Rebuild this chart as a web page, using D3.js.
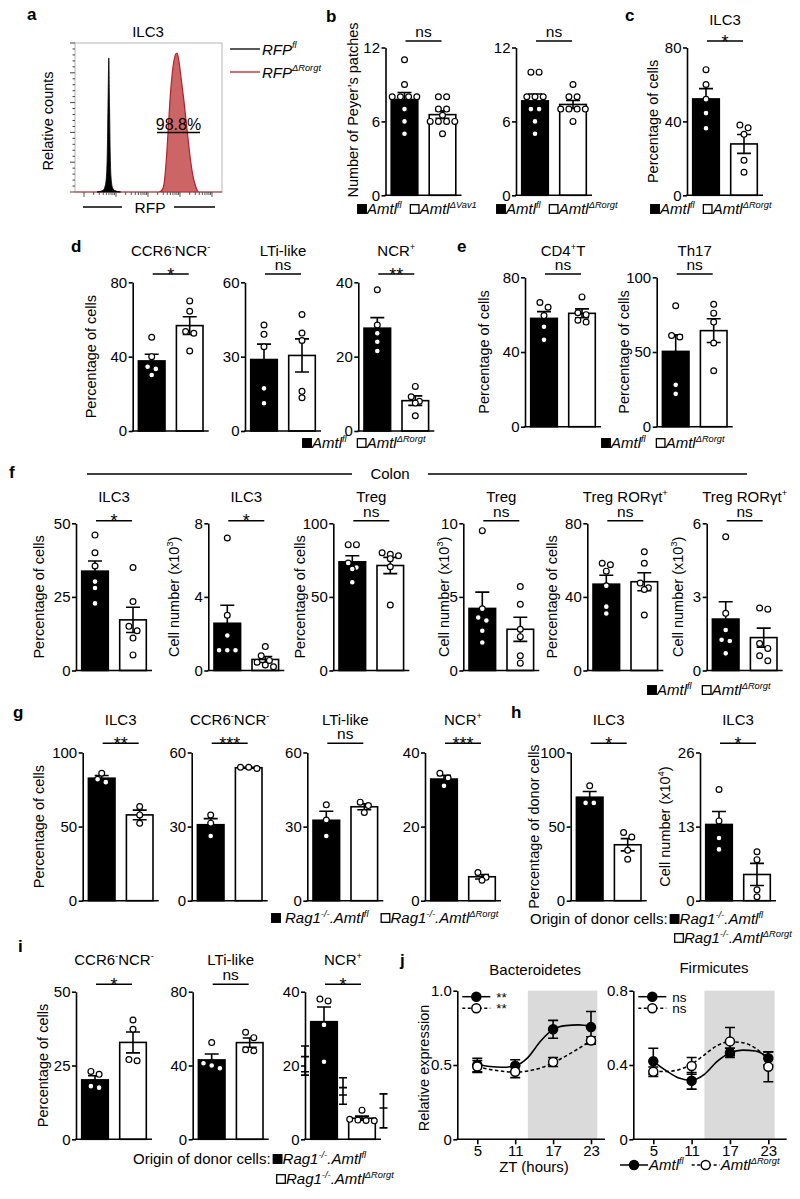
<!DOCTYPE html>
<html><head><meta charset="utf-8">
<script src="https://cdn.jsdelivr.net/npm/d3@7"></script>
<style>
body{margin:0;background:#fff}
svg{font-family:"Liberation Sans",Arial,Helvetica,sans-serif}
</style>
</head><body>
<svg id="chart" width="800" height="1199"></svg>
<script>
// ---------------- DATA ----------------
// panel a: flow histogram (channel, relative count)
const aBlackChannel = [15, 19, 20.5, 21.5, 22, 22.5, 23, 23.5, 24, 24.5, 25.5, 27, 31];
const aBlackCount   = [0, 1, 4, 12, 28, 62, 90, 58, 24, 10, 3, 1, 0];
const aRedChannel = [0, 18, 20.5, 23, 25.5, 28, 57, 59, 60.5, 62, 63.3, 64.5, 66, 67.5, 69, 69.5, 70.5, 72, 74, 76, 78, 80, 82, 84, 100];
const aRedCount   = [0, 0, 1.5, 2.5, 1.5, 0, 0, 1, 5, 20, 40, 60, 78, 89, 93, 93, 89, 78, 62, 44, 26, 12, 4, 0, 0];
const aGateLabel = "98.8%";

// bar panels: individual mice [control, knockout]
const bVav1Ctrl = [11, 9, 8, 8, 8, 8, 7, 6, 5];
const bVav1Ko   = [8, 8, 7, 7, 6.5, 6, 6, 6, 6, 5];
const bRorgtCtrl = [10, 10, 8, 8, 8, 7, 7, 6, 5];
const bRorgtKo   = [9, 8, 8, 7, 7, 7, 7, 6];
const cCtrl = [68, 60, 52, 44.5, 36.3];
const cKo   = [38, 36.5, 33, 19, 12.5];
const dCcr6Ctrl = [50.4, 40, 34.6, 33.4, 30.1];
const dCcr6Ko   = [70, 64.4, 53.5, 52.6, 43];
const dLtiCtrl = [42.8, 39, 34, 17.2, 11.2];
const dLtiKo   = [47, 39.5, 36.5, 16, 13.4];
const dNcrCtrl = [38, 28.5, 26.3, 24, 21.5];
const dNcrKo   = [12, 9.2, 8, 7.5, 4.1];
const eCd4Ctrl = [66.5, 64, 59.5, 53.5, 46.5];
const eCd4Ko   = [69.5, 61, 60, 57, 56];
const eTh17Ctrl = [81, 61, 60, 28, 22];
const eTh17Ko   = [82, 76, 70, 56, 37.5];
const fIlc3PctCtrl = [46, 40, 35.5, 30.2, 28, 22.8];
const fIlc3PctKo   = [35, 23.4, 15, 13.5, 11, 5.3];
const fIlc3NumCtrl = [7.2, 3.0, 1.9, 1.1, 1.1, 1.1];
const fIlc3NumKo   = [1.3, 0.8, 0.55, 0.45, 0.3, 0.2];
const fTregPctCtrl = [85.5, 85.5, 73, 70, 69, 60];
const fTregPctKo   = [80, 79, 78, 76, 70.5, 44.5];
const fTregNumCtrl = [9.5, 4.2, 3.6, 3.4, 2.7, 1.9];
const fTregNumKo   = [5.7, 4.5, 2.8, 2.3, 1.0, 0.5];
const fRorPctCtrl = [58.3, 57.5, 54, 46, 34.7, 31];
const fRorPctKo   = [64.5, 58.3, 47.5, 45, 44, 30.2];
const fRorNumCtrl = [5.45, 2.33, 1.65, 1.25, 1.2, 0.7];
const fRorNumKo   = [2.55, 2.5, 1.1, 0.9, 0.6, 0.4];
const gIlc3Ctrl = [86, 82, 80];
const gIlc3Ko   = [63.5, 57.9, 52.3];
const gCcr6Ctrl = [34.7, 31.4, 26.2];
const gCcr6Ko   = [54, 53.5, 54];
const gLtiCtrl = [38.8, 32.7, 26.2];
const gLtiKo   = [39.9, 38.5, 35.7];
const gNcrCtrl = [34.4, 33.1, 31];
const gNcrKo   = [7.6, 6.3, 5.5];
const hPctCtrl = [77.5, 66, 66];
const hPctKo   = [46, 43, 34, 28];
const hNumCtrl = [19.5, 14, 11, 9];
const hNumKo   = [8.6, 7.2, 1.9, 0.7];
const iCcr6Ctrl = [23, 22, 18, 17.5];
const iCcr6Ko   = [40.4, 37.3, 27, 26.6];
const iLtiCtrl = [52.4, 41.2, 40, 38.5];
const iLtiKo   = [58, 55.1, 48.5, 48];
const iNcrCtrl = [38, 37.5, 31, 21];
const iNcrKo   = [7.9, 5.4, 5.2, 5.1, 5.0];
// stray error bars printed in panel i (NCR+): mean, extra tick, low, high
const iStrayMean  = [22.4, 14, 8.5];
const iStrayExtra = [18.3, 12, 8.5];
const iStrayLow   = [17.4, 9.5, 3.1];
const iStrayHigh  = [25.3, 16.7, 12.3];

// panel j: ZT time course
const jHours = [5, 11, 17, 23];
const bacCtrlMean = [0.50, 0.495, 0.74, 0.755];
const bacCtrlSem  = [0.045, 0.04, 0.06, 0.105];
const bacKoMean = [0.49, 0.455, 0.52, 0.665];
const bacKoSem  = [0.04, 0.04, 0.03, 0.025];
const firCtrlMean = [0.42, 0.315, 0.466, 0.436];
const firCtrlSem  = [0.07, 0.045, 0.025, 0.035];
const firKoMean = [0.364, 0.395, 0.527, 0.39];
const firKoSem  = [0.025, 0.045, 0.075, 0.08];
const fitHours = [5, 7, 9, 11, 13, 15, 17, 19, 21, 23];
const bacCtrlFit = [0.505, 0.49, 0.485, 0.495, 0.55, 0.66, 0.74, 0.765, 0.77, 0.76];
const bacKoFit   = [0.49, 0.47, 0.458, 0.452, 0.46, 0.48, 0.515, 0.56, 0.61, 0.665];
const firCtrlFit = [0.42, 0.37, 0.33, 0.318, 0.35, 0.42, 0.465, 0.48, 0.475, 0.44];
const firKoFit   = [0.365, 0.365, 0.375, 0.405, 0.455, 0.505, 0.525, 0.52, 0.49, 0.43];
const darkPhase = [13, 24];

// ---------------- HELPERS ----------------
const svg = d3.select("#chart");
const FS_TICK = 15, FS_TITLE = 15, FS_LAB = 14.5, FS_LEG = 15;

function rich(t, str, fs) {
  const re = /\^\{([^}]*)\}/g;
  let last = 0, m; const parts = [];
  while ((m = re.exec(str))) {
    if (m.index > last) parts.push({t: str.slice(last, m.index), sup: false});
    parts.push({t: m[1], sup: true});
    last = re.lastIndex;
  }
  if (last < str.length) parts.push({t: str.slice(last), sup: false});
  let cur = 0;
  parts.forEach(p => {
    const ts = t.append("tspan").text(p.t);
    if (p.sup) { ts.attr("font-size", fs * 0.62).attr("dy", -fs * 0.42 - cur); cur = -fs * 0.42; }
    else { if (cur) ts.attr("dy", -cur); cur = 0; }
  });
  return t;
}
function text(x, y, str, o = {}) {
  const fs = o.fs || FS_TITLE;
  const t = svg.append("text").attr("x", x).attr("y", y).attr("font-size", fs)
    .attr("text-anchor", o.anchor || "start").attr("fill", "#000");
  if (o.bold) t.attr("font-weight", "bold");
  if (o.italic) t.attr("font-style", "italic");
  rich(t, str, fs);
  return t;
}
function ylabel(xc, yc, str, fs = FS_LAB) {
  const t = svg.append("text").attr("transform", `translate(${xc + fs * 0.36},${yc}) rotate(-90)`)
    .attr("font-size", fs).attr("text-anchor", "middle");
  rich(t, str, fs);
}
function hline(x1, x2, y, w = 1.6, col = "#000") {
  svg.append("line").attr("x1", x1).attr("x2", x2).attr("y1", y).attr("y2", y)
    .attr("stroke", col).attr("stroke-width", w);
}
function legend(x0, y, tokens, fs = FS_LEG) {
  let x = x0;
  tokens.forEach(tk => {
    if (tk.sq) {
      svg.append("rect").attr("x", x + 0.7).attr("y", y - 4.3).attr("width", 8.6).attr("height", 8.6)
        .attr("fill", tk.sq === "black" ? "#000" : "#fff").attr("stroke", "#000").attr("stroke-width", 1.3);
      x += 10 + (tk.after || 0);
    } else if (tk.line) {
      const L = 28;
      const l = svg.append("line").attr("x1", x).attr("x2", x + L).attr("y1", y).attr("y2", y)
        .attr("stroke", "#000").attr("stroke-width", 1.5);
      if (tk.line === "dashed") l.attr("stroke-dasharray", "3,2.5");
      svg.append("circle").attr("cx", x + L / 2).attr("cy", y).attr("r", 4.5)
        .attr("fill", tk.fill).attr("stroke", "#000").attr("stroke-width", 1.5);
      x += L + (tk.after || 0);
    } else if (tk.gap) {
      x += tk.gap;
    } else {
      const f = tk.fs || fs;
      const t = text(x, y + f * 0.36, tk.t, {fs: f, italic: tk.it});
      x += t.node().getComputedTextLength() + (tk.after || 0);
    }
  });
}

function barPanel(p) {
  const g = svg.append("g");
  const x = d3.scaleBand().domain([0, 1]).range([p.ax, p.ax + 76]).paddingInner(0.3).paddingOuter(0.15);
  const y = d3.scaleLinear().domain([0, p.max]).range([p.bot, p.top]);
  const stats = p.vals.map(v => ({m: d3.mean(v), s: d3.deviation(v) / Math.sqrt(v.length), v}));
  g.selectAll("rect.bar").data(stats).join("rect")
    .attr("x", (d, i) => x(i)).attr("width", x.bandwidth())
    .attr("y", d => y(d.m)).attr("height", d => p.bot - y(d.m))
    .attr("fill", (d, i) => i ? "#fff" : "#000").attr("stroke", "#000").attr("stroke-width", 1.6);
  // error bars
  stats.forEach((d, i) => {
    const cx = x(i) + x.bandwidth() / 2;
    g.append("path").attr("d",
      `M${cx},${y(d.m - d.s)}V${y(d.m + d.s)}M${cx - 7},${y(d.m + d.s)}H${cx + 7}M${cx - 7},${y(d.m - d.s)}H${cx + 7}`)
      .attr("stroke", "#000").attr("stroke-width", 1.6).attr("fill", "none");
  });
  // dots (row swarm)
  const r = 2.9, sp = 8.2;
  stats.forEach((d, i) => {
    const cx = x(i) + x.bandwidth() / 2;
    const pts = d.v.map(v => ({v, py: y(v)})).sort((a, b) => a.py - b.py);
    const rows = [];
    pts.forEach(pt => {
      const row = rows[rows.length - 1];
      if (row && pt.py - row[0].py < 2 * r * 0.95) row.push(pt); else rows.push([pt]);
    });
    rows.forEach(row => row.forEach((pt, k) => { pt.px = cx + (k - (row.length - 1) / 2) * sp; }));
    g.selectAll(null).data(pts).join("circle")
      .attr("cx", q => q.px).attr("cy", q => q.py).attr("r", r)
      .attr("fill", "#fff").attr("stroke", "#000").attr("stroke-width", 1.2);
  });
  // stray error bars
  if (p.stray) {
    const xs = [p.ax, (x(0) + x.bandwidth() + x(1)) / 2, p.ax + 78.5];
    p.stray.mean.forEach((m, k) => {
      const cx = xs[k], lo = y(p.stray.low[k]), hi = y(p.stray.high[k]), mm = y(m), ex = y(p.stray.extra[k]);
      g.append("path").attr("d", `M${cx},${lo}V${hi}M${cx - 4},${hi}H${cx + 4}M${cx - 4},${lo}H${cx + 4}M${cx - 4},${mm}H${cx + 4}M${cx - 4},${ex}H${cx + 4}`)
        .attr("stroke", "#000").attr("stroke-width", 1.6).attr("fill", "none");
    });
  }
  // axes
  const axis = d3.axisLeft(y).tickValues(p.ticks).tickSize(4).tickSizeOuter(0).tickPadding(1.5)
    .tickFormat(p.fmt || d3.format("d"));
  const ag = g.append("g").attr("transform", `translate(${p.ax},0)`).call(axis);
  ag.selectAll("path,line").attr("stroke", "#000").attr("stroke-width", 1.6);
  ag.selectAll("text").attr("font-size", FS_TICK).attr("fill", "#000")
    .attr("font-family", '"Liberation Sans",Arial,sans-serif');
  hline(p.ax - 0.8, p.ax + 76, p.bot);
  // significance
  if (p.sig) {
    hline(p.ax + 20, p.ax + 56, p.sigY);
    const star = p.sig !== "ns";
    text(p.ax + 38, star ? p.sigY + 6.5 : p.sigY - 4.2, p.sig, {fs: star ? 18 : 15.5, anchor: "middle"});
  }
  if (p.title) text(p.ax + 38, p.titleY, p.title, {anchor: "middle"});
  if (p.ylab) ylabel(p.ylabX, p.ylabY || (p.top + p.bot) / 2, p.ylab);
}

function panelLetter(x, y, s) { text(x, y, s, {fs: 17, bold: true}); }

// ---------------- PANEL a ----------------
panelLetter(27, 20, "a");
{
  const xa = d3.scaleLinear().domain([0, 100]).range([75, 222]);
  const ya = d3.scaleLinear().domain([0, 100]).range([192, 43]);
  const area = d3.area().x(d => xa(d[0])).y0(ya(0)).y1(d => ya(d[1])).curve(d3.curveMonotoneX);
  svg.append("rect").attr("x", 75).attr("y", 43).attr("width", 147).attr("height", 149)
    .attr("fill", "none").attr("stroke", "#b5b5b5").attr("stroke-width", 1);
  svg.append("path").datum(d3.zip(aRedChannel, aRedCount)).attr("d", area)
    .attr("fill", "#cc6666").attr("stroke", "#b3202a").attr("stroke-width", 1.2);
  svg.append("path").datum(d3.zip(aBlackChannel, aBlackCount)).attr("d", area)
    .attr("fill", "#000").attr("stroke", "#000").attr("stroke-width", 0.8);
  // left ticks
  d3.range(0, 101, 4).forEach(v => {
    const L = v % 20 === 0 ? 5 : 2.5;
    svg.append("line").attr("x1", 75 - L).attr("x2", 75).attr("y1", ya(v)).attr("y2", ya(v))
      .attr("stroke", "#444").attr("stroke-width", 1);
  });
  const lg = d3.scaleLog().domain([10, 1e5]).range([84, 212]);
  lg.ticks().forEach(v => {
    const major = Math.abs(Math.log10(v) - Math.round(Math.log10(v))) < 1e-9;
    svg.append("line").attr("x1", lg(v)).attr("x2", lg(v)).attr("y1", 192).attr("y2", 192 + (major ? 5 : 3))
      .attr("stroke", "#444").attr("stroke-width", 0.9);
  });
  text(148, 37, "ILC3", {anchor: "middle"});
  text(178.5, 130, aGateLabel, {fs: 16, anchor: "middle"});
  hline(157, 200, 132.5, 1.4);
  ylabel(47.5, 121, "Relative counts");
  text(150, 213, "RFP", {fs: 15.5, anchor: "middle"});
  hline(83, 122, 207, 1.4);
  hline(174, 215, 207, 1.4);
  hline(230, 260, 49, 1.3, "#000");
  hline(230, 260, 72, 1.3, "#b3202a");
  text(262, 54.5, "RFP^{fl}", {fs: 15, italic: true});
  text(262, 77.5, "RFP^{ΔRorgt}", {fs: 15, italic: true});
}

// ---------------- PANEL b, c ----------------
panelLetter(326, 22, "b");
const row1 = {top: 47.5, bot: 195.3, sigY: 41};
barPanel({...row1, ax: 385.5, max: 12, ticks: [0, 6, 12], vals: [bVav1Ctrl, bVav1Ko], sig: "ns",
  ylab: "Number of Peyer’s patches", ylabX: 353, ylabY: 110});
barPanel({...row1, ax: 516, max: 12, ticks: [0, 6, 12], vals: [bRorgtCtrl, bRorgtKo], sig: "ns"});
legend(357, 209, [{sq: "black"}, {t: "Amtl^{fl}", it: true, after: 8}, {sq: "white"}, {t: "Amtl^{ΔVav1}", it: true}]);
legend(496, 209, [{sq: "black"}, {t: "Amtl^{fl}", it: true, after: 8}, {sq: "white"}, {t: "Amtl^{ΔRorgt}", it: true}]);

panelLetter(625, 21, "c");
barPanel({...row1, ax: 687, max: 80, ticks: [0, 40, 80], vals: [cCtrl, cKo], sig: "*",
  title: "ILC3", titleY: 25, ylab: "Percentage of cells", ylabX: 652.5});
legend(650, 209, [{sq: "black"}, {t: "Amtl^{fl}", it: true, after: 8}, {sq: "white"}, {t: "Amtl^{ΔRorgt}", it: true}]);

// ---------------- PANEL d ----------------
panelLetter(71, 252, "d");
const rowD = {top: 282.3, bot: 431, sigY: 274, titleY: 256};
barPanel({...rowD, ax: 132.7, max: 80, ticks: [0, 40, 80], vals: [dCcr6Ctrl, dCcr6Ko], sig: "*",
  title: "CCR6^{-}NCR^{-}", ylab: "Percentage of cells", ylabX: 91});
barPanel({...rowD, ax: 245, max: 60, ticks: [0, 30, 60], vals: [dLtiCtrl, dLtiKo], sig: "ns", title: "LTi-like"});
barPanel({...rowD, ax: 358.3, max: 40, ticks: [0, 20, 40], vals: [dNcrCtrl, dNcrKo], sig: "**", title: "NCR^{+}"});
legend(302, 443, [{sq: "black"}, {t: "Amtl^{fl}", it: true, after: 10}, {sq: "white"}, {t: "Amtl^{ΔRorgt}", it: true}]);

// ---------------- PANEL e ----------------
panelLetter(457, 252, "e");
const rowE = {top: 277.3, bot: 426.7, sigY: 274, titleY: 256};
barPanel({...rowE, ax: 525, max: 80, ticks: [0, 40, 80], vals: [eCd4Ctrl, eCd4Ko], sig: "ns",
  title: "CD4^{+}T", ylab: "Percentage of cells", ylabX: 484});
barPanel({...rowE, ax: 656.7, max: 100, ticks: [0, 50, 100], vals: [eTh17Ctrl, eTh17Ko], sig: "ns",
  title: "Th17", ylab: "Percentage of cells", ylabX: 624});
legend(601, 443, [{sq: "black"}, {t: "Amtl^{fl}", it: true, after: 10}, {sq: "white"}, {t: "Amtl^{ΔRorgt}", it: true}]);

// ---------------- PANEL f ----------------
panelLetter(9, 478, "f");
hline(87, 352, 474, 1.7);
hline(428, 747, 474, 1.7);
text(390, 479, "Colon", {anchor: "middle"});
const rowF = {top: 523.3, bot: 670.5, sigY: 520.7, titleY: 502};
barPanel({...rowF, ax: 76, max: 50, ticks: [0, 25, 50], vals: [fIlc3PctCtrl, fIlc3PctKo], sig: "*",
  title: "ILC3", ylab: "Percentage of cells", ylabX: 39});
barPanel({...rowF, ax: 208.3, max: 8, ticks: [0, 4, 8], vals: [fIlc3NumCtrl, fIlc3NumKo], sig: "*",
  title: "ILC3", ylab: "Cell number (x10^{3})", ylabX: 174});
barPanel({...rowF, ax: 333.3, max: 100, ticks: [0, 50, 100], vals: [fTregPctCtrl, fTregPctKo], sig: "ns",
  title: "Treg", ylab: "Percentage of cells", ylabX: 300});
barPanel({...rowF, ax: 463.3, max: 10, ticks: [0, 5, 10], vals: [fTregNumCtrl, fTregNumKo], sig: "ns",
  title: "Treg", ylab: "Cell number (x10^{3})", ylabX: 444});
barPanel({...rowF, ax: 587.3, max: 80, ticks: [0, 40, 80], vals: [fRorPctCtrl, fRorPctKo], sig: "ns",
  title: "Treg RORγt^{+}", ylab: "Percentage of cells", ylabX: 552});
barPanel({...rowF, ax: 706.7, max: 6, ticks: [0, 3, 6], vals: [fRorNumCtrl, fRorNumKo], sig: "ns",
  title: "Treg RORγt^{+}", ylab: "Cell number (x10^{3})", ylabX: 678});
legend(647, 690, [{sq: "black"}, {t: "Amtl^{fl}", it: true, after: 10}, {sq: "white"}, {t: "Amtl^{ΔRorgt}", it: true}]);

// ---------------- PANEL g ----------------
panelLetter(13, 718, "g");
const rowG = {top: 752.5, bot: 900.7, sigY: 743.3, titleY: 725};
barPanel({...rowG, ax: 82.7, max: 100, ticks: [0, 50, 100], vals: [gIlc3Ctrl, gIlc3Ko], sig: "**",
  title: "ILC3", ylab: "Percentage of cells", ylabX: 39});
barPanel({...rowG, ax: 191.7, max: 60, ticks: [0, 30, 60], vals: [gCcr6Ctrl, gCcr6Ko], sig: "***", title: "CCR6^{-}NCR^{-}"});
barPanel({...rowG, ax: 307.3, max: 60, ticks: [0, 30, 60], vals: [gLtiCtrl, gLtiKo], sig: "ns", title: "LTi-like"});
barPanel({...rowG, ax: 425, max: 40, ticks: [0, 20, 40], vals: [gNcrCtrl, gNcrKo], sig: "***", title: "NCR^{+}"});
legend(271, 918, [{sq: "black", after: 4}, {t: "Rag1^{-/-}.Amtl^{fl}", it: true, after: 12}, {sq: "white"}, {t: "Rag1^{-/-}.Amtl^{ΔRorgt}", it: true}]);

// ---------------- PANEL h ----------------
panelLetter(511, 718, "h");
barPanel({...rowG, ax: 570.7, max: 100, ticks: [0, 50, 100], vals: [hPctCtrl, hPctKo], sig: "*",
  title: "ILC3", ylab: "Percentage of donor cells", ylabX: 534});
barPanel({...rowG, ax: 700, max: 26, ticks: [0, 13, 26], vals: [hNumCtrl, hNumKo], sig: "*",
  title: "ILC3", ylab: "Cell number (x10^{4})", ylabX: 665});
legend(530, 919, [{t: "Origin of donor cells:", after: 2}, {sq: "black"}, {t: "Rag1^{-/-}.Amtl^{fl}", it: true}]);
legend(674, 938, [{sq: "white"}, {t: "Rag1^{-/-}.Amtl^{ΔRorgt}", it: true}]);

// ---------------- PANEL i ----------------
panelLetter(18, 952, "i");
const rowI = {top: 991.7, bot: 1139.3, sigY: 984.3, titleY: 965};
barPanel({...rowI, ax: 76, max: 50, ticks: [0, 25, 50], vals: [iCcr6Ctrl, iCcr6Ko], sig: "*",
  title: "CCR6^{-}NCR^{-}", ylab: "Percentage of cells", ylabX: 43});
barPanel({...rowI, ax: 192.7, max: 80, ticks: [0, 40, 80], vals: [iLtiCtrl, iLtiKo], sig: "ns", title: "LTi-like"});
barPanel({...rowI, ax: 305, max: 40, ticks: [0, 20, 40], vals: [iNcrCtrl, iNcrKo], sig: "*", title: "NCR^{+}",
  stray: {mean: iStrayMean, extra: iStrayExtra, low: iStrayLow, high: iStrayHigh}});
legend(133, 1159, [{t: "Origin of donor cells:", after: 2}, {sq: "black"}, {t: "Rag1^{-/-}.Amtl^{fl}", it: true}]);
legend(276, 1179, [{sq: "white"}, {t: "Rag1^{-/-}.Amtl^{ΔRorgt}", it: true}]);

// ---------------- PANEL j ----------------
panelLetter(400, 966, "j");
function linePanel(p) {
  const g = svg.append("g");
  const x = d3.scaleLinear().domain([5, 23]).range(p.xr);
  const y = d3.scaleLinear().domain([0, p.max]).range([1139.3, 990.7]);
  g.append("rect").attr("x", x(darkPhase[0])).attr("width", x(darkPhase[1]) - x(darkPhase[0]))
    .attr("y", y(p.max)).attr("height", y(0) - y(p.max)).attr("fill", "#dadada");
  const line = d3.line().x(d => x(d[0])).y(d => y(d[1])).curve(d3.curveMonotoneX);
  g.append("path").datum(d3.zip(fitHours, p.ctrlFit)).attr("d", line)
    .attr("fill", "none").attr("stroke", "#000").attr("stroke-width", 1.6);
  g.append("path").datum(d3.zip(fitHours, p.koFit)).attr("d", line)
    .attr("fill", "none").attr("stroke", "#000").attr("stroke-width", 1.6).attr("stroke-dasharray", "3.5,2.5");
  [[p.ctrlMean, p.ctrlSem, "#000"], [p.koMean, p.koSem, "#fff"]].forEach(([mean, sem, fill]) => {
    mean.forEach((m, k) => {
      const cx = x(jHours[k]);
      g.append("path").attr("d", `M${cx},${y(m - sem[k])}V${y(m + sem[k])}M${cx - 5},${y(m + sem[k])}H${cx + 5}M${cx - 5},${y(m - sem[k])}H${cx + 5}`)
        .attr("stroke", "#000").attr("stroke-width", 1.6).attr("fill", "none");
    });
    g.selectAll(null).data(mean).join("circle").attr("cx", (m, k) => x(jHours[k])).attr("cy", m => y(m))
      .attr("r", 4.5).attr("fill", fill).attr("stroke", "#000").attr("stroke-width", 1.5);
  });
  const ay = d3.axisLeft(y).tickValues(p.ticks).tickSize(4).tickSizeOuter(0).tickPadding(1.5).tickFormat(p.fmt);
  const ax = d3.axisBottom(x).tickValues(jHours).tickSize(5).tickSizeOuter(0).tickPadding(1.5);
  const ag = g.append("g").attr("transform", `translate(${p.x0},0)`).call(ay);
  const bg = g.append("g").attr("transform", `translate(0,${y(0)})`).call(ax);
  bg.select(".domain").remove();
  [ag, bg].forEach(a => {
    a.selectAll("path,line").attr("stroke", "#000").attr("stroke-width", 1.6);
    a.selectAll("text").attr("font-size", FS_TICK).attr("fill", "#000")
      .attr("font-family", '"Liberation Sans",Arial,sans-serif');
  });
  hline(p.x0 - 0.8, p.x1, y(0));
  text((p.x0 + p.x1) / 2 + 4, p.titleY, p.title, {anchor: "middle"});
  legend(p.x0 + 5, 996.7, [{line: "solid", fill: "#000", after: 6}, {t: p.sig[0], fs: 13.5}]);
  legend(p.x0 + 5, 1008.3, [{line: "dashed", fill: "#fff", after: 6}, {t: p.sig[1], fs: 13.5}]);
}
linePanel({xr: [477.3, 591], x0: 457.3, x1: 605, max: 1.0, ticks: [0, 0.5, 1.0],
  fmt: d => d === 0 ? "0" : d3.format(".1f")(d), title: "Bacteroidetes", titleY: 975,
  ctrlMean: bacCtrlMean, ctrlSem: bacCtrlSem, koMean: bacKoMean, koSem: bacKoSem,
  ctrlFit: bacCtrlFit, koFit: bacKoFit, sig: ["**", "**"]});
linePanel({xr: [653.3, 768.3], x0: 633.3, x1: 786.7, max: 0.8, ticks: [0, 0.4, 0.8],
  fmt: d => d === 0 ? "0" : d3.format(".1f")(d), title: "Firmicutes", titleY: 973,
  ctrlMean: firCtrlMean, ctrlSem: firCtrlSem, koMean: firKoMean, koSem: firKoSem,
  ctrlFit: firCtrlFit, koFit: firKoFit, sig: ["ns", "ns"]});
ylabel(424, 1068, "Relative expression");
text(534, 1172, "ZT (hours)", {anchor: "middle"});
legend(620, 1165, [{line: "solid", fill: "#000", after: 1}, {t: "Amtl^{fl}", it: true, after: 8},
  {line: "dashed", fill: "#fff", after: 1}, {t: "Amtl^{ΔRorgt}", it: true}]);
</script>
</body></html>
